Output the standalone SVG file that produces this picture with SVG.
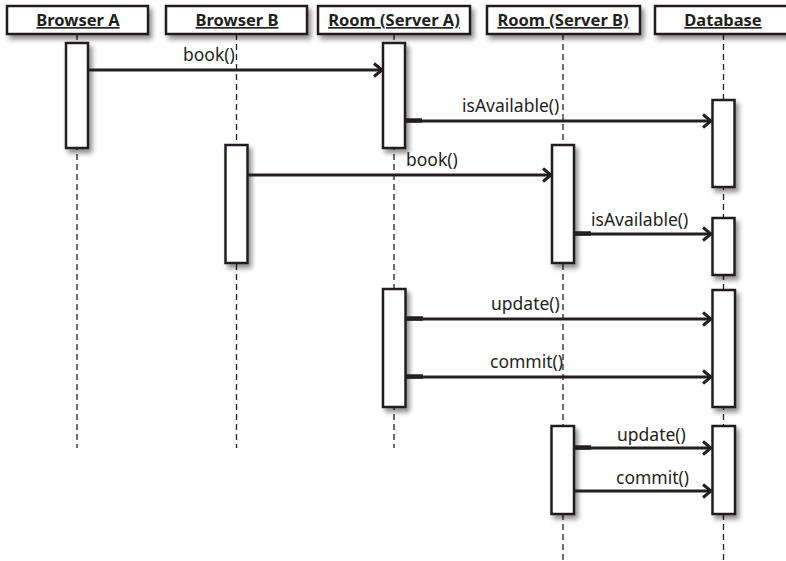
<svg xmlns="http://www.w3.org/2000/svg" width="786" height="561" viewBox="0 0 786 561">
<defs>
<filter id="sh" x="-30%" y="-30%" width="180%" height="180%">
<feGaussianBlur in="SourceAlpha" stdDeviation="2.5"/>
<feOffset dx="3" dy="4" result="b"/>
<feComponentTransfer><feFuncA type="linear" slope="0.45"/></feComponentTransfer>
<feMerge><feMergeNode/><feMergeNode in="SourceGraphic"/></feMerge>
</filter>
<marker id="ah" viewBox="0 0 12 16" refX="10" refY="8" markerWidth="12" markerHeight="16" markerUnits="userSpaceOnUse" orient="auto">
<path d="M2,1.5 L10,8 L2,14.5" fill="none" stroke="#231f20" stroke-width="3"/>
</marker>
</defs>
<style>
.hdr{fill:#fff;stroke:#231f20;stroke-width:2.5;filter:url(#sh)}
.act{fill:#fff;stroke:#231f20;stroke-width:2.5;filter:url(#sh)}
.ht{font-family:"Noto Sans","Liberation Sans",sans-serif;font-weight:bold;font-size:16.5px;fill:#231f20;text-anchor:middle;text-decoration:underline}
.life{stroke:#231f20;stroke-width:1.3;stroke-dasharray:6 4;fill:none}
.msg{stroke:#231f20;stroke-width:3;fill:none;marker-end:url(#ah)}
.stub{stroke:#231f20;stroke-width:4.5}
.lbl{font-family:"Noto Sans","Liberation Sans",sans-serif;font-size:17.5px;fill:#231f20}
</style>
<rect width="786" height="561" fill="#fff"/>

<g id="lifelines">
<line class="life" x1="77" y1="34" x2="77" y2="448"/>
<line class="life" x1="236.5" y1="34" x2="236.5" y2="448"/>
<line class="life" x1="394" y1="34" x2="394" y2="448"/>
<line class="life" x1="563" y1="34" x2="563" y2="561"/>
<line class="life" x1="723.5" y1="34" x2="723.5" y2="561"/>
</g>

<g id="browserA">
<rect class="hdr" x="7" y="6" width="141" height="28"/>
<text class="ht" x="78" y="26">Browser A</text>
<rect class="act" x="66" y="43" width="22" height="105"/>
</g>
<g id="browserB">
<rect class="hdr" x="166" y="6" width="141" height="28"/>
<text class="ht" x="237" y="26">Browser B</text>
<rect class="act" x="225.5" y="145" width="22" height="118"/>
</g>
<g id="roomA">
<rect class="hdr" x="318" y="6" width="152" height="28"/>
<text class="ht" x="394" y="26">Room (Server A)</text>
<rect class="act" x="383" y="43" width="22" height="105"/>
<rect class="act" x="383" y="289" width="22.5" height="118"/>
</g>
<g id="roomB">
<rect class="hdr" x="487" y="6" width="153" height="28"/>
<text class="ht" x="563" y="26">Room (Server B)</text>
<rect class="act" x="552" y="145" width="22" height="118"/>
<rect class="act" x="551.5" y="426" width="22.5" height="88"/>
</g>
<g id="database">
<rect class="hdr" x="655" y="6" width="136" height="28"/>
<text class="ht" x="723" y="26">Database</text>
<rect class="act" x="712.5" y="100" width="22" height="87"/>
<rect class="act" x="712.5" y="218" width="22" height="57"/>
<rect class="act" x="712.5" y="290" width="22.5" height="117"/>
<rect class="act" x="712.5" y="426" width="22.5" height="88"/>
</g>

<g id="connectors">
<line class="msg" x1="88" y1="70" x2="382" y2="70"/>
<text class="lbl" x="183" y="61">book()</text>

<line class="msg" x1="405" y1="121" x2="711" y2="121"/>
<line class="stub" x1="405" y1="120.5" x2="422" y2="120.5"/>
<text class="lbl" x="462" y="112">isAvailable()</text>

<line class="msg" x1="248" y1="175" x2="551" y2="175"/>
<text class="lbl" x="406" y="166">book()</text>

<line class="msg" x1="574" y1="234" x2="711" y2="234"/>
<line class="stub" x1="574" y1="233.5" x2="591" y2="233.5"/>
<text class="lbl" x="591" y="226">isAvailable()</text>

<line class="msg" x1="406" y1="319" x2="711" y2="319"/>
<line class="stub" x1="406" y1="318.5" x2="423" y2="318.5"/>
<text class="lbl" x="491" y="310">update()</text>

<line class="msg" x1="406" y1="377" x2="711" y2="377"/>
<line class="stub" x1="406" y1="376.5" x2="423" y2="376.5"/>
<text class="lbl" x="490" y="368">commit()</text>

<line class="msg" x1="574" y1="448" x2="711" y2="448"/>
<line class="stub" x1="574" y1="447.5" x2="591" y2="447.5"/>
<text class="lbl" x="617" y="441">update()</text>

<line class="msg" x1="574" y1="491" x2="711" y2="491"/>
<text class="lbl" x="616" y="484">commit()</text>
</g>
</svg>
